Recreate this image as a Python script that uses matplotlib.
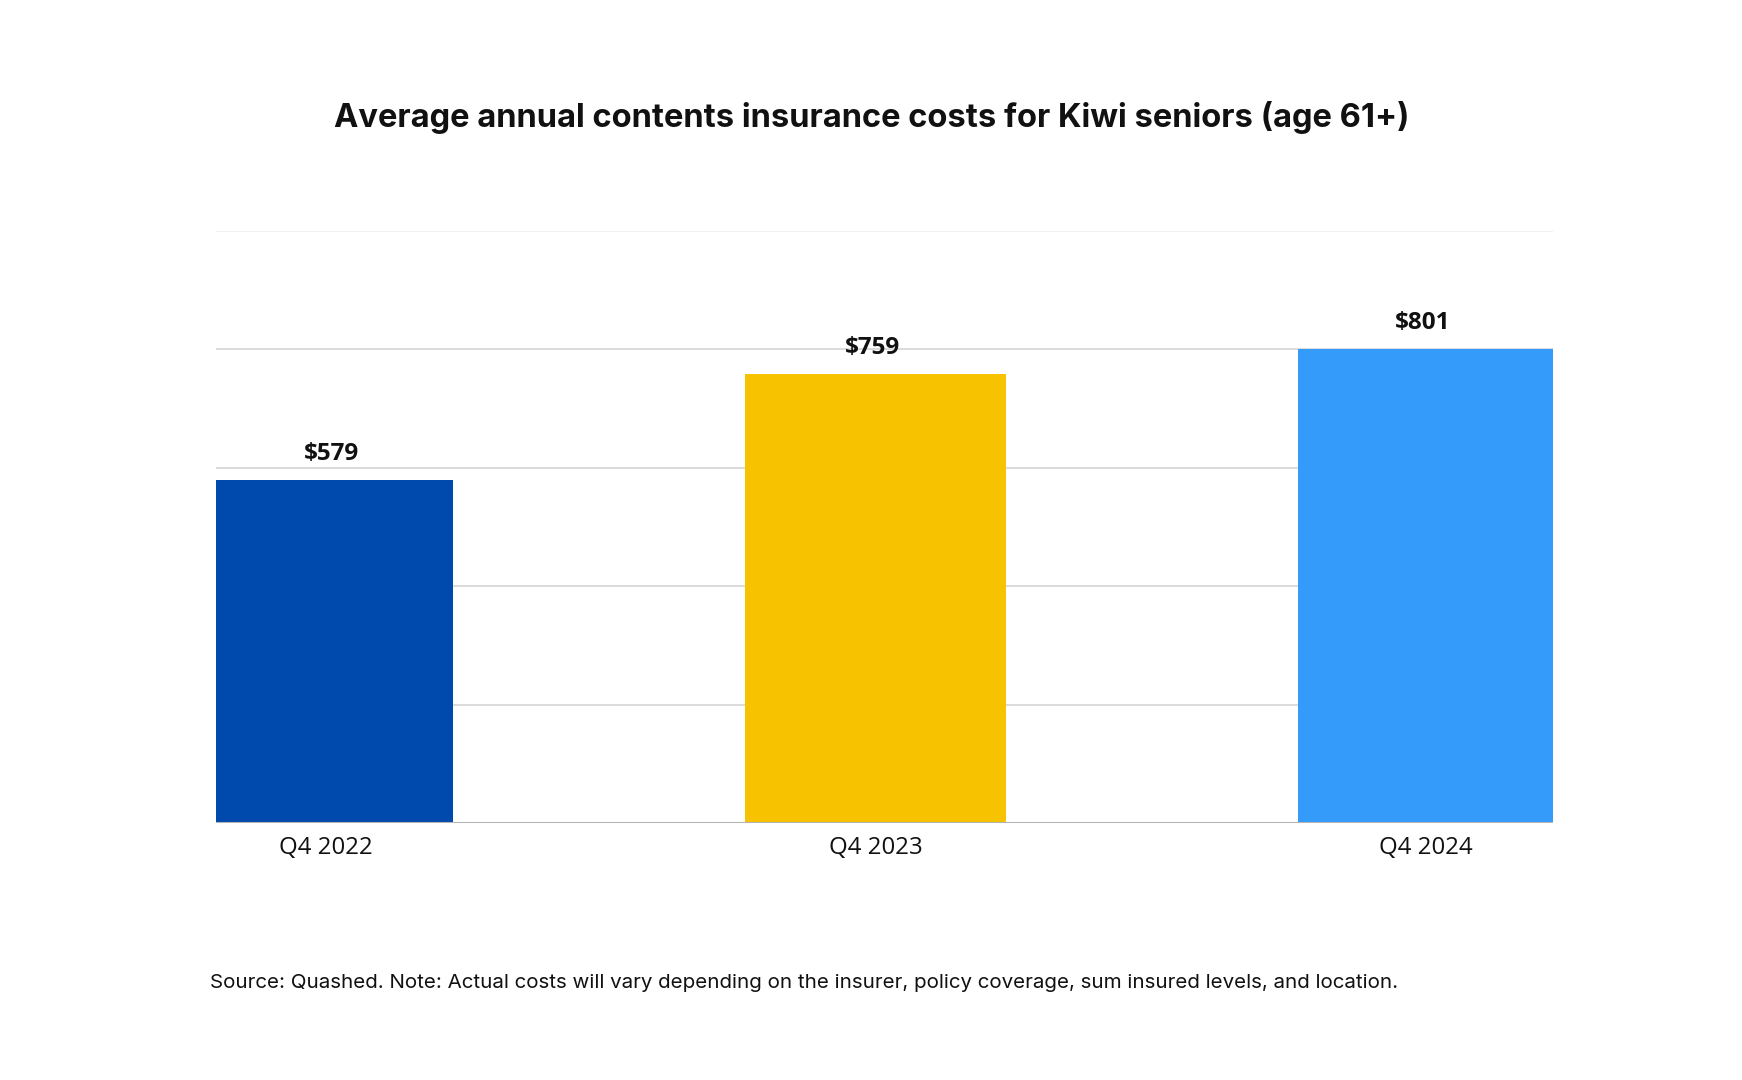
import matplotlib
matplotlib.use("Agg")
import matplotlib.pyplot as plt

# Data
categories = ["Q4 2022", "Q4 2023", "Q4 2024"]
values = [579, 759, 801]
value_labels = ["$579", "$759", "$801"]
colors = ["#004AAD", "#F7C300", "#349BFA"]
yticks = [0, 200, 400, 600, 800, 1000]

# Layout (positions / sizes)
positions = [0.0, 0.992, 2.0]
tick_positions = [-0.016, 0.992, 2.0]
widths = [0.434, 0.478, 0.467]

fig = plt.figure(figsize=(17.42, 10.8), dpi=100)
fig.patch.set_facecolor("white")
ax = fig.add_axes([216/1742, 1 - 823/1080, 1337/1742, 592/1080])

for yv in yticks[1:]:
    col = "#ededed" if yv == yticks[-1] else "#d4d4d4"
    ax.axhline(yv, color=col, lw=1.2, zorder=0)

ax.bar(positions, values, width=widths, color=colors, zorder=2)
ax.axhline(0, color="#b3b3b3", lw=1.5, zorder=3)

for x, v, lab in zip(positions, values, value_labels):
    ax.annotate(lab, (x - 0.005, v), xytext=(0, 14), textcoords="offset pixels",
                ha="center", va="bottom", fontsize=17.5, fontweight="bold",
                family="Open Sans", color="#111111")

ax.set_xlim(positions[0] - widths[0]/2, positions[-1] + widths[-1]/2)
ax.set_ylim(0, 1000)
ax.set_xticks(tick_positions)
ax.set_xticklabels(categories, family="Open Sans", fontsize=17.3, color="#111111")
ax.tick_params(axis="x", length=0, pad=9)
ax.set_yticks([])
for s in ax.spines.values():
    s.set_visible(False)

fig.text(872/1742, 1 - 117/1080, "Average annual contents insurance costs for Kiwi seniors (age 61+)",
         ha="center", va="center", fontsize=23.5, fontweight="bold", family="Inter", color="#111111")
fig.text(210/1742, 1 - 983/1080,
         "Source: Quashed. Note: Actual costs will vary depending on the insurer, policy coverage, sum insured levels, and location.",
         ha="left", va="center", fontsize=14.8, family="Inter", color="#111111")

fig.savefig("out.png", dpi=100, facecolor="white")
